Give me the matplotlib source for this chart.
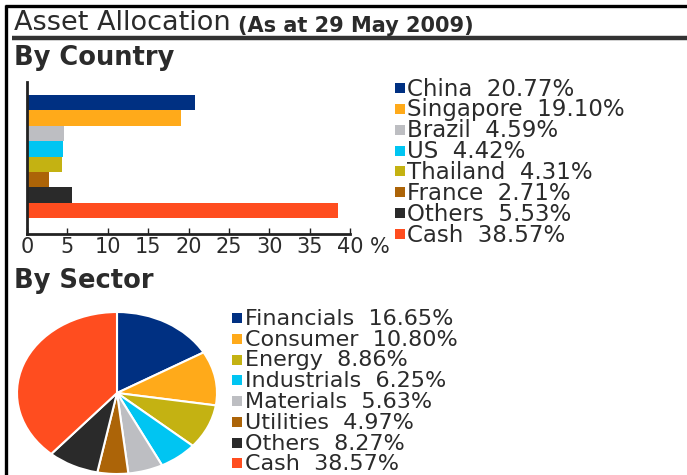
import matplotlib
matplotlib.use("Agg")
import matplotlib.pyplot as plt

# data
countries = ['China', 'Singapore', 'Brazil', 'US', 'Thailand', 'France', 'Others', 'Cash']
country_pct = [20.77, 19.10, 4.59, 4.42, 4.31, 2.71, 5.53, 38.57]
sectors = ['Financials', 'Consumer', 'Energy', 'Industrials', 'Materials', 'Utilities', 'Others', 'Cash']
sector_pct = [16.65, 10.80, 8.86, 6.25, 5.63, 4.97, 8.27, 38.57]
x_ticks = [0, 5, 10, 15, 20, 25, 30, 35, 40]

navy = '#003082'
orange = '#FFAA1A'
grey = '#BDBEC2'
cyan = '#00C5F2'
olive = '#C4B212'
brown = '#AC6408'
dark = '#2A2A2A'
red = '#FF4D1F'
country_colors = [navy, orange, grey, cyan, olive, brown, dark, red]
sector_colors = [navy, orange, olive, cyan, grey, brown, dark, red]
txt = '#2b2b2b'

W, H = 687, 475
fig = plt.figure(figsize=(W / 100, H / 100), dpi=100)
plt.rcParams['font.family'] = ['DejaVu Sans']

# overlay in pixel coordinates for frame, titles and legends
ov = fig.add_axes([0, 0, 1, 1])
ov.set_xlim(0, W)
ov.set_ylim(H, 0)
ov.axis('off')
ov.set_zorder(5)

ov.plot([5, W], [5.5, 5.5], color='black', lw=2.4, solid_capstyle='butt')
ov.plot([5.5, 5.5], [5, H], color='black', lw=2.4, solid_capstyle='butt')
ov.plot([12, W], [37.5, 37.5], color='#333333', lw=3.2, solid_capstyle='butt')

t1 = ov.text(14, 30, 'Asset Allocation', fontsize=19.5, color=txt, va='baseline')
ov.annotate('(As at 29 May 2009)', xy=(1, 0), xycoords=t1, xytext=(5, 0),
            textcoords='offset points', fontsize=15, fontweight='bold',
            color=txt, va='bottom')
ov.text(14, 65, 'By Country', fontsize=18.5, fontweight='bold', color=txt, va='baseline')
ov.text(14, 288, 'By Sector', fontsize=18.5, fontweight='bold', color=txt, va='baseline')

# bar chart
ax = fig.add_axes([27 / W, 1 - 234 / H, 323 / W, 152 / H])
ypos = list(range(len(countries)))
ax.barh(ypos, country_pct, height=1.0, color=country_colors)
ax.set_xlim(0, 40)
ax.set_ylim(8.54, -1.35)
ax.set_yticks([])
ax.set_xticks(x_ticks)
ax.set_xticklabels([str(v) for v in x_ticks])
ax.tick_params(axis='x', direction='in', length=4, width=1, pad=2,
               labelsize=15, labelcolor=txt, color='#222222')
for s in ['top', 'right']:
    ax.spines[s].set_visible(False)
for s in ['left', 'bottom']:
    ax.spines[s].set_linewidth(2)
    ax.spines[s].set_color('#222222')
ax.annotate('%', xy=(1, 0), xycoords='axes fraction', xytext=(14, -2),
            textcoords='offset points', fontsize=15, color=txt, va='top')

# country legend
for i, (name, val) in enumerate(zip(countries, country_pct)):
    y = 88 + i * 20.86
    ov.scatter([399.5], [y], marker='s', s=50, color=country_colors[i], linewidths=0)
    ov.text(407, y + 1, f'{name}  {val:.2f}%', fontsize=16.5, color=txt, va='center')

# pie chart
axp = fig.add_axes([17 / W, 1 / H, 200 / W, 162 / H])
wedges, _ = axp.pie(sector_pct, colors=sector_colors, startangle=90, counterclock=False,
                    wedgeprops=dict(edgecolor='white', linewidth=1.5))
for w in wedges:
    w.set_clip_on(False)
axp.set_aspect('auto')
axp.set_xlim(-1, 1)
axp.set_ylim(-1, 1)

# sector legend
for i, (name, val) in enumerate(zip(sectors, sector_pct)):
    y = 318 + i * 20.75
    ov.scatter([237], [y], marker='s', s=50, color=sector_colors[i], linewidths=0)
    ov.text(245, y + 1, f'{name}  {val:.2f}%', fontsize=16, color=txt, va='center')

fig.savefig('out.png', dpi=100, facecolor='white')
